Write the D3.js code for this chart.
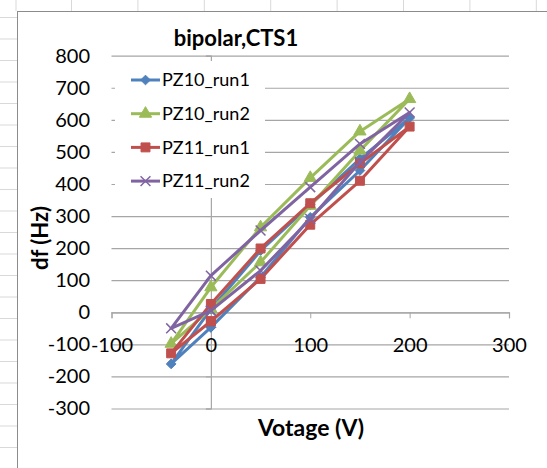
<!DOCTYPE html>
<html>
<head>
<meta charset="utf-8">
<script src="https://cdn.jsdelivr.net/npm/d3@7"></script>
<style>
  body { margin: 0; background: #fff; }
  svg { display: block; font-family: Lato, 'Open Sans', sans-serif; }
</style>
</head>
<body>
<div id="chart"></div>
<script>
// data (loop: up along the lower branch, back down the upper one)
const voltage = [0, 50, 100, 150, 200, 150, 100, 50, 0, -40, 0]
const pz10Run1 = [-47, 109, 296, 442, 606, 478, 335, 192, 10, -161, -47]
const pz10Run2 = [10, 156, 332, 504, 665, 564, 419, 265, 78, -98, 10]
const pz11Run1 = [-28, 104, 273, 410, 579, 464, 340, 199, 26, -128, -28]
const pz11Run2 = [5, 130, 291, 468, 623, 525, 390, 255, 114, -50, 5]
const seriesNames = ['PZ10_run1', 'PZ10_run2', 'PZ11_run1', 'PZ11_run2']
const xTicks = [-100, 0, 100, 200, 300]
const yTicks = [-300, -200, -100, 0, 100, 200, 300, 400, 500, 600, 700, 800]

const colors = ['#4F81BD', '#9BBB59', '#C0504D', '#8064A2']
const symbols = [d3.symbolDiamond2, d3.symbolTriangle, d3.symbolSquare, d3.symbolX]
const symbolSizes = [60, 65, 80, 65]

const width = 547
const height = 468

const svg = d3
  .select('#chart')
  .append('svg')
  .attr('width', width)
  .attr('height', height)

// spreadsheet cells peeking out behind the chart
const cellLines = svg.append('g').attr('stroke', '#d9d9d9').attr('stroke-width', 1)
d3.range(8).forEach(i => {
  const cx = 71.5 + i * 66.4
  cellLines.append('line').attr('x1', cx).attr('x2', cx).attr('y1', 0).attr('y2', 11)
})
d3.range(22).forEach(i => {
  const cy = 17.5 + i * 21.5
  cellLines.append('line').attr('x1', 0).attr('x2', 17).attr('y1', cy).attr('y2', cy)
})
cellLines.append('line').attr('x1', 16).attr('x2', 16).attr('y1', 0).attr('y2', 11)

// chart area
svg
  .append('rect')
  .attr('x', 17.5)
  .attr('y', 11.5)
  .attr('width', 600)
  .attr('height', 600)
  .attr('fill', '#fff')
  .attr('stroke', '#8c8c8c')

const xPositionScale = d3.scaleLinear().domain([-100, 300]).range([111.5, 509])
const yPositionScale = d3.scaleLinear().domain([-300, 800]).range([408.5, 55.7])

// plain hyphen minus, like the original
const plain = d => String(d)

// gridlines
svg
  .append('g')
  .attr('class', 'grid')
  .attr('transform', 'translate(' + xPositionScale(-100) + ',0)')
  .call(
    d3.axisLeft(yPositionScale)
      .tickValues(yTicks)
      .tickSize(-(xPositionScale(300) - xPositionScale(-100)))
      .tickFormat('')
  )
  .call(g => g.select('.domain').remove())
  .call(g => g.selectAll('line').attr('stroke', '#a6a6a6').attr('stroke-width', 1.2))

// y axis, crossing at x = 0, labels pushed out to the left
const yAxis = d3.axisLeft(yPositionScale).tickValues(yTicks).tickSize(5).tickFormat(plain)
svg
  .append('g')
  .attr('class', 'axis y-axis')
  .attr('transform', 'translate(' + xPositionScale(0) + ',0)')
  .call(yAxis)
  .call(g => g.select('.domain').attr('stroke', '#a6a6a6').attr('stroke-width', 1.2))
  .call(g => g.selectAll('line').attr('stroke', '#a6a6a6'))
  .call(g =>
    g.selectAll('text')
      .attr('x', 90 - xPositionScale(0))
      .attr('font-size', 20)
      .attr('fill', '#000')
      .attr('font-family', 'Lato, sans-serif')
  )

// x axis, crossing at y = 0
const xAxis = d3.axisBottom(xPositionScale).tickValues(xTicks).tickSize(6).tickFormat(plain)
svg
  .append('g')
  .attr('class', 'axis x-axis')
  .attr('transform', 'translate(0,' + yPositionScale(0) + ')')
  .call(xAxis)
  .call(g => g.select('.domain').attr('stroke', '#a6a6a6').attr('stroke-width', 1.2))
  .call(g => g.selectAll('line').attr('stroke', '#a6a6a6'))
  .call(g =>
    g.selectAll('text')
      .attr('y', 33)
      .attr('dy', '0.35em')
      .attr('font-size', 20)
      .attr('fill', '#000')
      .attr('font-family', 'Lato, sans-serif')
  )

// series
const allSeries = [pz10Run1, pz10Run2, pz11Run1, pz11Run2]
const line = d3
  .line()
  .x(d => xPositionScale(d.v))
  .y(d => yPositionScale(d.df))

allSeries.forEach((values, i) => {
  const points = values.map((df, j) => ({ v: voltage[j], df: df }))
  const g = svg.append('g').attr('class', 'series')
  g.append('path')
    .datum(points)
    .attr('d', line)
    .attr('fill', 'none')
    .attr('stroke', colors[i])
    .attr('stroke-width', 3)
    .attr('stroke-linejoin', 'round')
  g.selectAll('path.dot')
    .data(points)
    .enter()
    .append('path')
    .attr('class', 'dot')
    .attr('d', d3.symbol().type(symbols[i]).size(symbolSizes[i]))
    .attr('transform', d => 'translate(' + xPositionScale(d.v) + ',' + yPositionScale(d.df) + ')')
    .attr('fill', i === 3 ? 'none' : colors[i])
    .attr('stroke', colors[i])
    .attr('stroke-width', i === 3 ? 1.5 : 1)
})

// legend
const legend = svg.append('g').attr('class', 'legend')
legend
  .append('rect')
  .attr('x', 115)
  .attr('y', 61)
  .attr('width', 150)
  .attr('height', 137)
  .attr('fill', '#fff')

seriesNames.forEach((name, i) => {
  const ly = 80 + i * 33.7
  legend.append('line')
    .attr('x1', 131).attr('x2', 160)
    .attr('y1', ly).attr('y2', ly)
    .attr('stroke', colors[i])
    .attr('stroke-width', 3)
  legend.append('path')
    .attr('d', d3.symbol().type(symbols[i]).size(symbolSizes[i])())
    .attr('transform', 'translate(145.5,' + ly + ')')
    .attr('fill', i === 3 ? 'none' : colors[i])
    .attr('stroke', colors[i])
    .attr('stroke-width', i === 3 ? 1.5 : 1)
  legend.append('text')
    .attr('x', 162)
    .attr('y', ly)
    .attr('dy', '0.35em')
    .attr('font-size', 18)
    .text(name)
})

// titles
svg.append('text')
  .attr('x', 236)
  .attr('y', 38)
  .attr('dy', '0.35em')
  .attr('text-anchor', 'middle')
  .attr('font-size', 22)
  .attr('font-weight', 'bold')
  .text('bipolar,CTS1')

svg.append('text')
  .attr('transform', 'translate(40,238) rotate(-90)')
  .attr('dy', '0.35em')
  .attr('text-anchor', 'middle')
  .attr('font-size', 22)
  .attr('font-weight', 'bold')
  .text('df (Hz)')

svg.append('text')
  .attr('x', 311)
  .attr('y', 428)
  .attr('dy', '0.35em')
  .attr('text-anchor', 'middle')
  .attr('font-size', 23)
  .attr('font-weight', 'bold')
  .text('Votage (V)')
</script>
</body>
</html>
